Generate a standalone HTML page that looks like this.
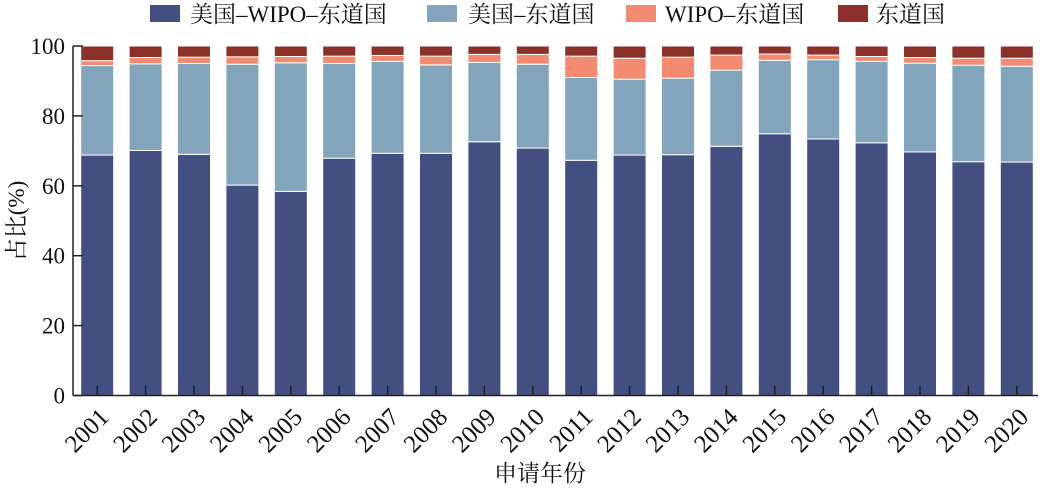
<!DOCTYPE html>
<html><head><meta charset="utf-8"><style>
body{margin:0;background:#fff;}
svg text{font-family:"Liberation Serif","Noto Serif CJK SC",serif;fill:#111;}
</style></head><body>
<svg id="chart" width="1040" height="487">
<g id="legend">
<g><rect x="150" y="5" width="30" height="17" fill="#434f80"/><text x="190" y="22" font-size="23">美国–WIPO–东道国</text></g>
<g><rect x="427" y="5" width="30" height="17" fill="#82a5bb"/><text x="468" y="22" font-size="23">美国–东道国</text></g>
<g><rect x="626" y="5" width="30" height="17" fill="#f28b70"/><text x="665" y="22" font-size="23">WIPO–东道国</text></g>
<g><rect x="838" y="5" width="30" height="17" fill="#8b3129"/><text x="876" y="22" font-size="23">东道国</text></g>
</g>
<g id="bars"></g>
<g id="axes"></g>
<text x="540" y="481" font-size="23" text-anchor="middle">申请年份</text>
<text transform="translate(24,221) rotate(-90)" font-size="23" text-anchor="middle">占比(%)</text>
</svg>
<script>
const years=["2001","2002","2003","2004","2005","2006","2007","2008","2009","2010","2011","2012","2013","2014","2015","2016","2017","2018","2019","2020"];
const usWipoHost=[68.8,70.1,69.0,60.2,58.4,67.9,69.3,69.3,72.6,70.8,67.3,68.8,68.9,71.3,74.9,73.4,72.3,69.7,66.9,66.8];
const usHost=[25.6,24.8,26.0,34.6,36.8,27.1,26.3,25.3,22.7,24.0,23.7,21.7,21.9,21.8,21.0,22.7,23.3,25.4,27.6,27.4];
const wipoHost=[1.4,1.8,1.8,2.1,1.8,2.1,1.7,2.5,2.3,2.8,6.1,6.0,6.0,4.3,1.8,1.3,1.4,1.6,2.0,2.3];
const hostOnly=[4.2,3.3,3.2,3.1,3.0,2.9,2.7,2.9,2.4,2.4,2.9,3.5,3.2,2.6,2.3,2.6,3.0,3.3,3.5,3.5];
const yTicks=[0,20,40,60,80,100];
const series=[usWipoHost,usHost,wipoHost,hostOnly];
const seriesNames=["us-wipo-host","us-host","wipo-host","host"];
const colors=["#434f80","#82a5bb","#f28b70","#8b3129"];
const NS="http://www.w3.org/2000/svg";
const x0=73,band=48.4,bw=33,yB=395.5,yT=46;
const yS=v=>yB-(yB-yT)*v/100;
const xC=i=>x0+band*(i+0.5);
const bars=document.getElementById('bars'),axes=document.getElementById('axes');
function mk(tag,attrs,parent){const e=document.createElementNS(NS,tag);for(const k in attrs)e.setAttribute(k,attrs[k]);parent.appendChild(e);return e;}
years.forEach((yr,i)=>{let cum=0;series.forEach((s,j)=>{const v=s[i];const r=mk('rect',{x:xC(i)-bw/2,y:yS(cum+v),width:bw,height:yS(cum)-yS(cum+v),fill:colors[j],stroke:'#fff','stroke-width':1},bars);


cum+=v;});
const t=mk('line',{x1:xC(i),x2:xC(i),y1:yB,y2:yB-10,stroke:'#222','stroke-width':1.5},axes);


const lb=mk('text',{transform:`translate(${xC(i)+13},${yB+23}) rotate(-45)`,'font-size':25,'text-anchor':'end'},axes);lb.textContent=yr;


});
yTicks.forEach(v=>{const t=mk('line',{x1:x0,x2:x0+10,y1:yS(v),y2:yS(v),stroke:'#222','stroke-width':1.5},axes);


const l=mk('text',{x:x0-8,y:yS(v)+8,'font-size':23,'text-anchor':'end'},axes);l.textContent=v;

});
const ya=mk('line',{x1:x0,x2:x0,y1:yT,y2:yB,stroke:'#222','stroke-width':1.5},axes);


const xa=mk('line',{x1:x0,x2:1038,y1:yB,y2:yB,stroke:'#222','stroke-width':1.5},axes);


</script>
</body></html>
